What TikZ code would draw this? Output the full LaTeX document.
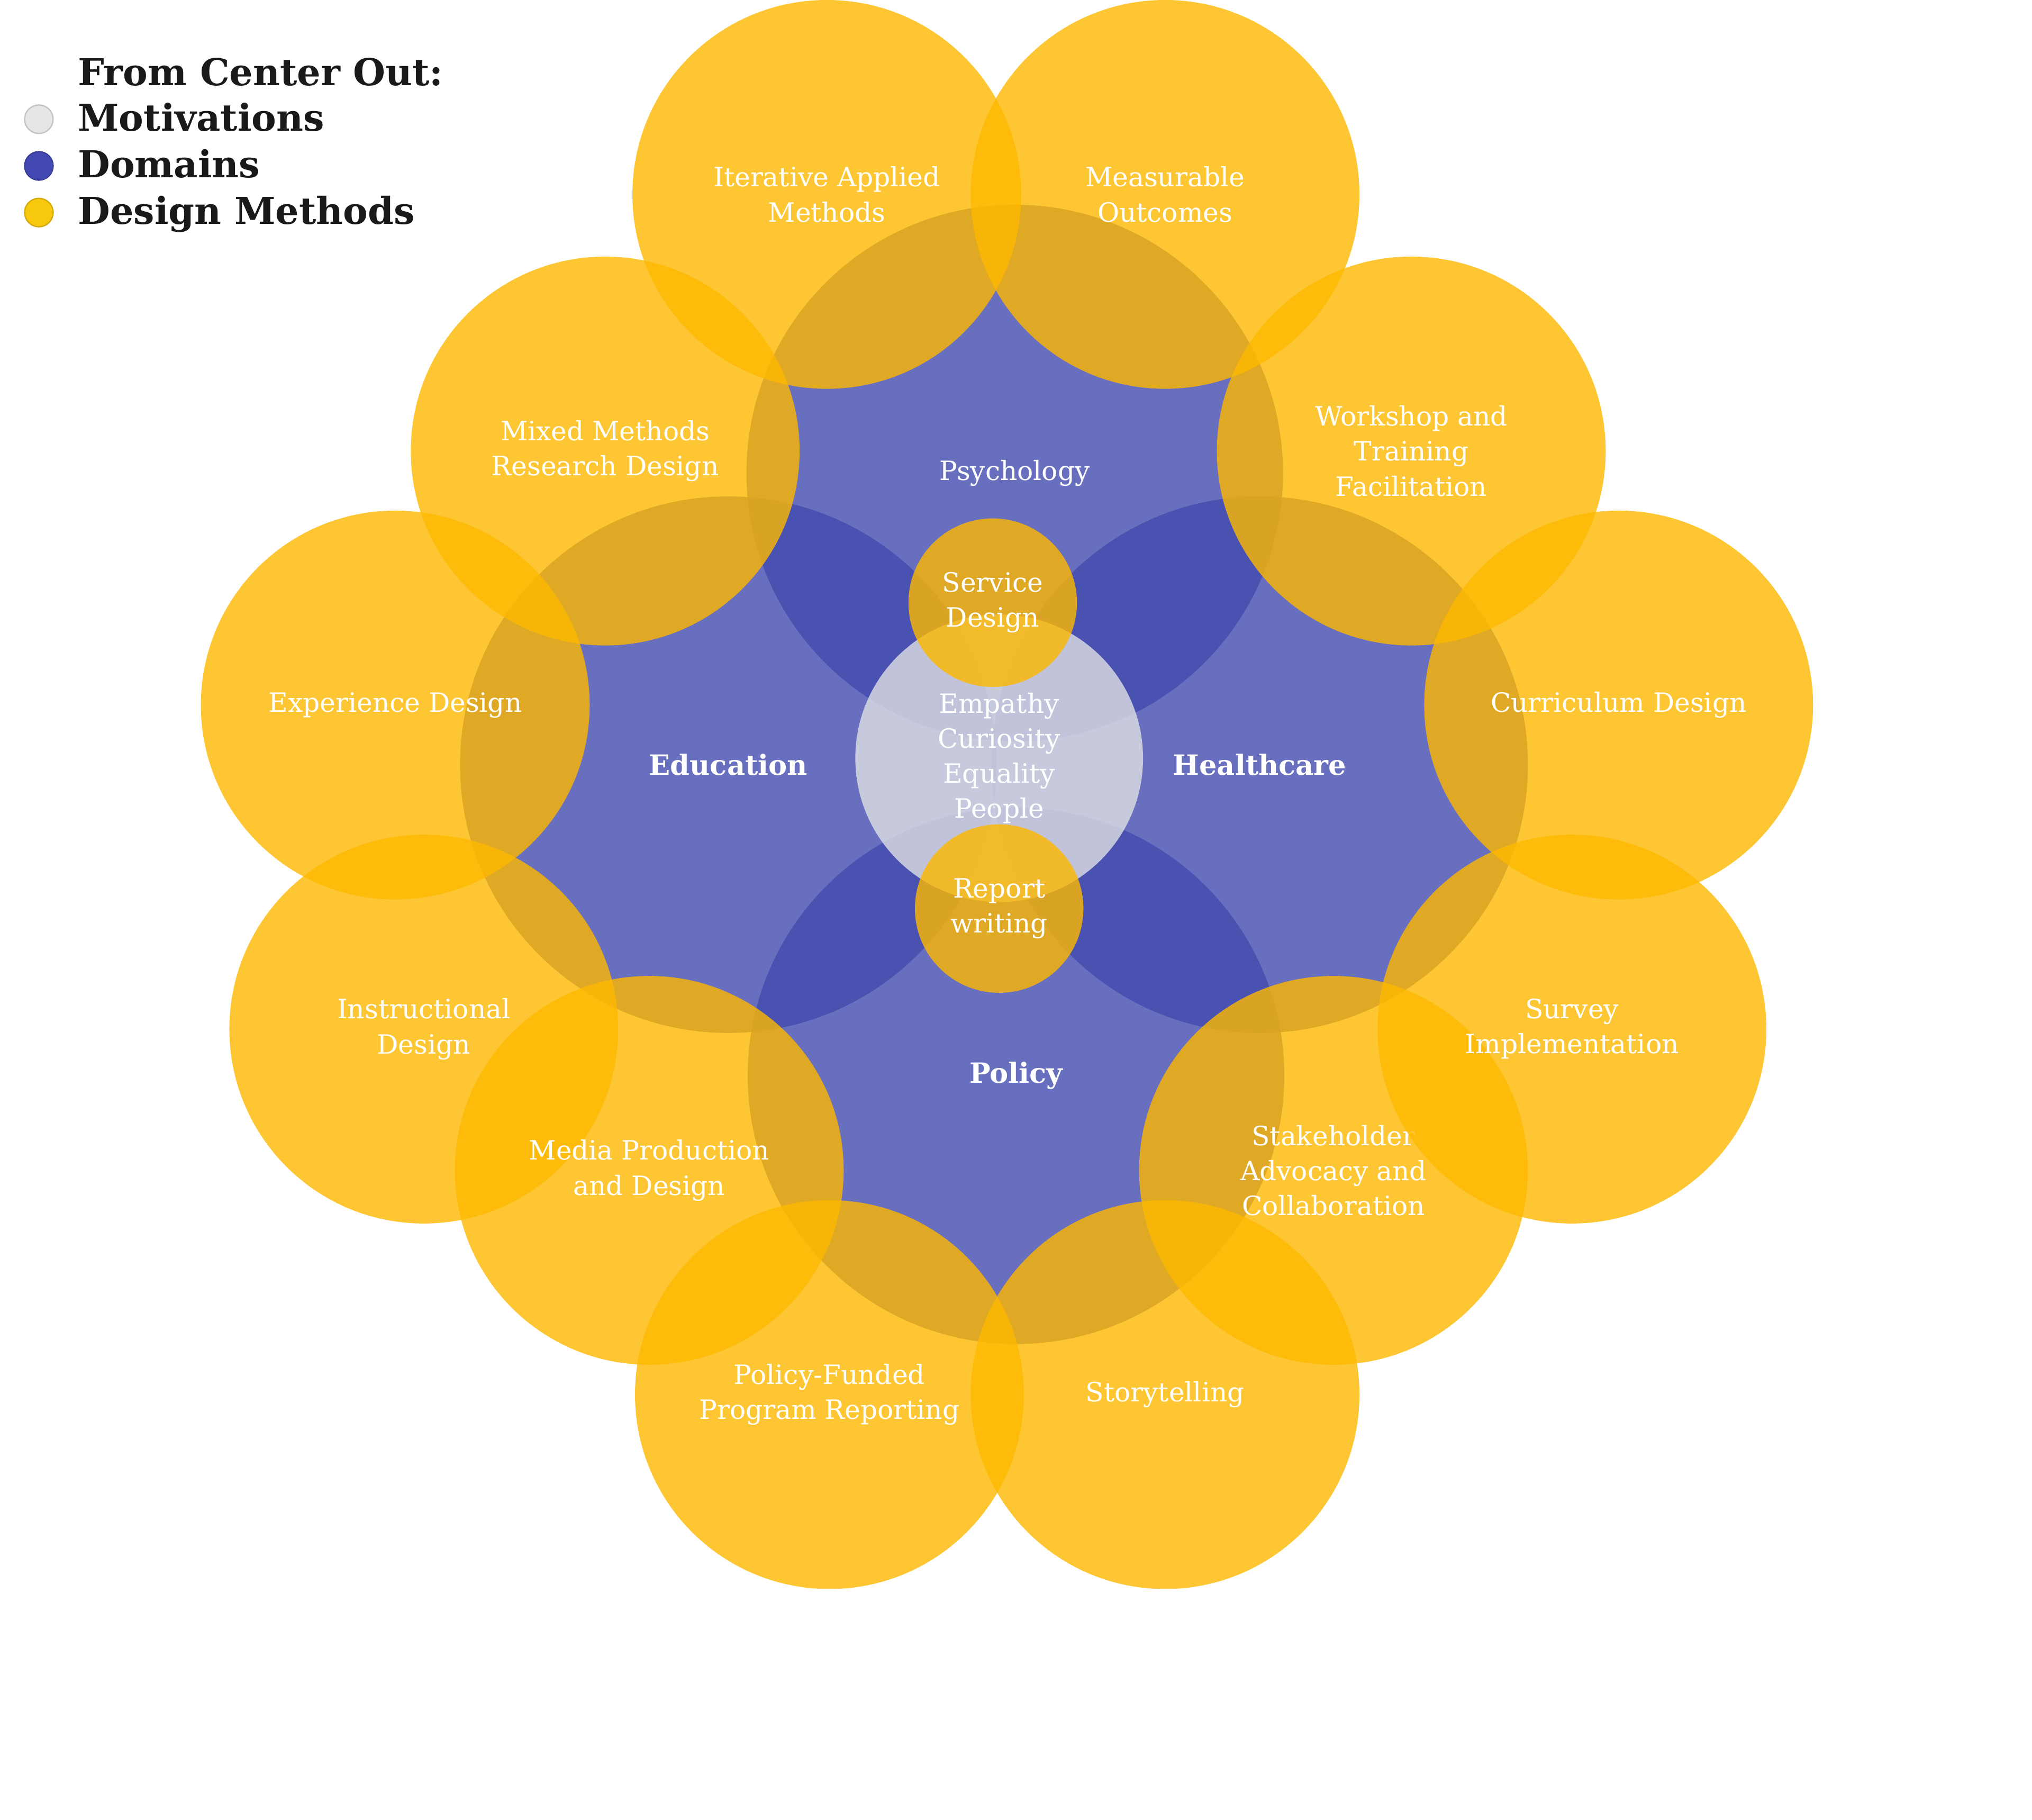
\documentclass[tikz,border=0pt]{standalone}
\usepackage{fontspec}
\setmainfont{DejaVu Serif}
\definecolor{domainblue}{RGB}{66,75,174}
\definecolor{methodgold}{RGB}{254,184,0}
\definecolor{motivgrey}{RGB}{224,224,230}
\definecolor{legblue}{RGB}{67,73,178}
\definecolor{leggold}{RGB}{248,200,14}
\definecolor{leggrey}{RGB}{230,230,230}
\tikzset{
    bubble/.style={circle,inner sep=0pt,fill opacity=0.8,text opacity=1,text=white,align=center,
        font=\fontsize{20.5}{27}\selectfont},
    domaincirc/.style={bubble,fill=domainblue,minimum size=414pt},
    boldlabel/.style={font=\fontsize{21.5}{27}\selectfont\bfseries},
    method/.style={bubble,fill=methodgold,minimum size=300pt},
    smallmethod/.style={bubble,fill=methodgold,minimum size=130pt},
    motiv/.style={bubble,fill=motivgrey,minimum size=222pt},
    legdot/.style={circle,inner sep=0pt,minimum size=22pt,line width=1pt},
    legtext/.style={anchor=base west,inner sep=0pt,text=black!90,font=\fontsize{28.6}{36}\selectfont\bfseries}
}
\begin{document}
\begin{tikzpicture}[x=1pt,y=-1pt]
        \useasboundingbox (0,0) rectangle (1568,1404.2);
        %% domains
        \node[domaincirc] (psych) at (783,365) {Psychology};
        \node[domaincirc,boldlabel] (educ) at (562,590) {Education};
        \node[domaincirc,boldlabel] (health) at (972,590) {Healthcare};
        \node[domaincirc,boldlabel] (policy) at (784,830) {Policy};
        %% motivations
        \node[motiv] (motiv) at (771,585) {Empathy\\Curiosity\\Equality\\People};
        %% shared methods
        \node[smallmethod] (service) at (766,465) {Service\\Design};
        \node[smallmethod] (report) at (771,701) {Report\\writing};
        %% design methods
        \foreach \x/\y/\n/\t in {638/150/iter/{Iterative Applied\\Methods},
                899/150/measure/{Measurable\\Outcomes},
                1089/348/workshop/{Workshop and\\Training\\Facilitation},
                1249/544/curric/{Curriculum Design},
                1029/903/stake/{Stakeholder\\Advocacy and\\Collaboration},
                1213/794/survey/{Survey\\Implementation},
                899/1076/story/{Storytelling},
                640/1076/funded/{Policy-Funded\\Program Reporting},
                327/794/instruct/{Instructional\\Design},
                501/903/media/{Media Production\\and Design},
                305/544/exper/{Experience Design},
                467/348/mixed/{Mixed Methods\\Research Design}}
            \node[method] (\n) at (\x,\y) {\t};
        %% legend
        \node[legtext] (legtitle) at (60,66) {From Center Out:};
        \foreach \y/\n/\c/\t in {101/mot/leggrey/Motivations,137/dom/legblue/Domains,173/met/leggold/Design Methods}{
            \node[legdot,fill=\c,draw=\c!85!black] (leg\n) at (30,\y-9) {};
            \node[legtext] (leg\n text) at (60,\y) {\t};
        }
    \end{tikzpicture}
\end{document}
